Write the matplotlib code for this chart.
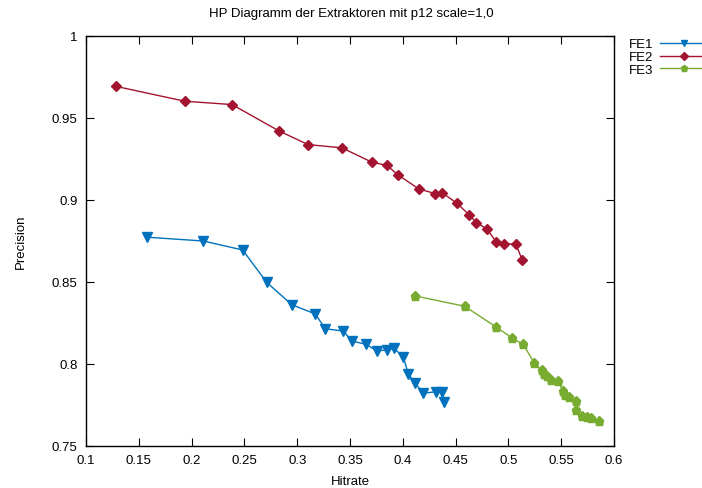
import matplotlib
matplotlib.use('Agg')
from matplotlib import pyplot

# values
fe1_hitrate = [0.1580, 0.2111, 0.2484, 0.2711, 0.2948, 0.3171, 0.3266, 0.3437,
               0.3519, 0.3652, 0.3756, 0.3850, 0.3917, 0.4005, 0.4052, 0.4119,
               0.4194, 0.4318, 0.4374, 0.4393]
fe1_precision = [0.8773, 0.8750, 0.8695, 0.8498, 0.8362, 0.8305, 0.8215, 0.8201,
                 0.8140, 0.8120, 0.8079, 0.8087, 0.8095, 0.8043, 0.7939, 0.7882,
                 0.7822, 0.7831, 0.7831, 0.7771]

fe2_hitrate = [0.1283, 0.1937, 0.2383, 0.2828, 0.3102, 0.3424, 0.3705, 0.3850,
               0.3957, 0.4153, 0.4308, 0.4371, 0.4513, 0.4630, 0.4696, 0.4797,
               0.4883, 0.4962, 0.5072, 0.5132]
fe2_precision = [0.9693, 0.9602, 0.9582, 0.9421, 0.9338, 0.9318, 0.9231, 0.9211,
                 0.9152, 0.9067, 0.9039, 0.9045, 0.8980, 0.8909, 0.8862, 0.8823,
                 0.8746, 0.8734, 0.8730, 0.8632]

fe3_hitrate = [0.4118, 0.4586, 0.4883, 0.5034, 0.5142, 0.5244, 0.5314, 0.5339,
               0.5365, 0.5403, 0.5472, 0.5516, 0.5535, 0.5576, 0.5636, 0.5642,
               0.5699, 0.5743, 0.5781, 0.5862]
fe3_precision = [0.8415, 0.8352, 0.8226, 0.8159, 0.8119, 0.8006, 0.7962, 0.7942,
                 0.7928, 0.7903, 0.7897, 0.7834, 0.7814, 0.7797, 0.7775, 0.7720,
                 0.7681, 0.7675, 0.7671, 0.7651]

x_ticks = [0.1, 0.15, 0.2, 0.25, 0.3, 0.35, 0.4, 0.45, 0.5, 0.55, 0.6]
y_ticks = [0.75, 0.8, 0.85, 0.9, 0.95, 1.0]


def tick_label(v):
    s = '%.2f' % v
    s = s.rstrip('0').rstrip('.')
    return s


def main():
    pyplot.rcParams['font.family'] = ['Liberation Sans', 'DejaVu Sans']
    pyplot.rcParams['font.size'] = 9.5

    fig = pyplot.figure(figsize=(7.02, 4.89), dpi=100)
    ax = fig.add_axes([86 / 702, 42 / 489, 528 / 702, 410 / 489])

    ax.plot(fe1_hitrate, fe1_precision, color='#0072bd', marker='v',
            markersize=6.5, linewidth=1.0, label='FE1')
    ax.plot(fe2_hitrate, fe2_precision, color='#a2142f', marker='D',
            markersize=5, linewidth=1.0, label='FE2')
    ax.plot(fe3_hitrate, fe3_precision, color='#77ac30', marker='p',
            markersize=6.5, linewidth=1.0, label='FE3')

    ax.set_xlim(0.1, 0.6)
    ax.set_ylim(0.75, 1.0)
    ax.set_xticks(x_ticks)
    ax.set_xticklabels([tick_label(v) for v in x_ticks])
    ax.set_yticks(y_ticks)
    ax.set_yticklabels([tick_label(v) for v in y_ticks])
    ax.tick_params(direction='in', top=True, right=True, length=6,
                   width=0.8, pad=6)
    for spine in ax.spines.values():
        spine.set_linewidth(1.0)

    ax.set_xlabel('Hitrate', labelpad=6)
    ax.set_ylabel('Precision', labelpad=18)
    fig.text(351 / 702, 1 - 14 / 489, 'HP Diagramm der Extraktoren mit p12 scale=1,0',
             ha='center', va='center')

    fig.legend(loc='upper left', bbox_to_anchor=(629 / 702, 1 - 39 / 489),
               frameon=False, markerfirst=False, handlelength=3.6,
               handletextpad=0.5, labelspacing=0.05, borderaxespad=0.0,
               borderpad=0.0, markerscale=0.75)

    fig.savefig('out.png', dpi=100)


if __name__ == '__main__':
    main()
